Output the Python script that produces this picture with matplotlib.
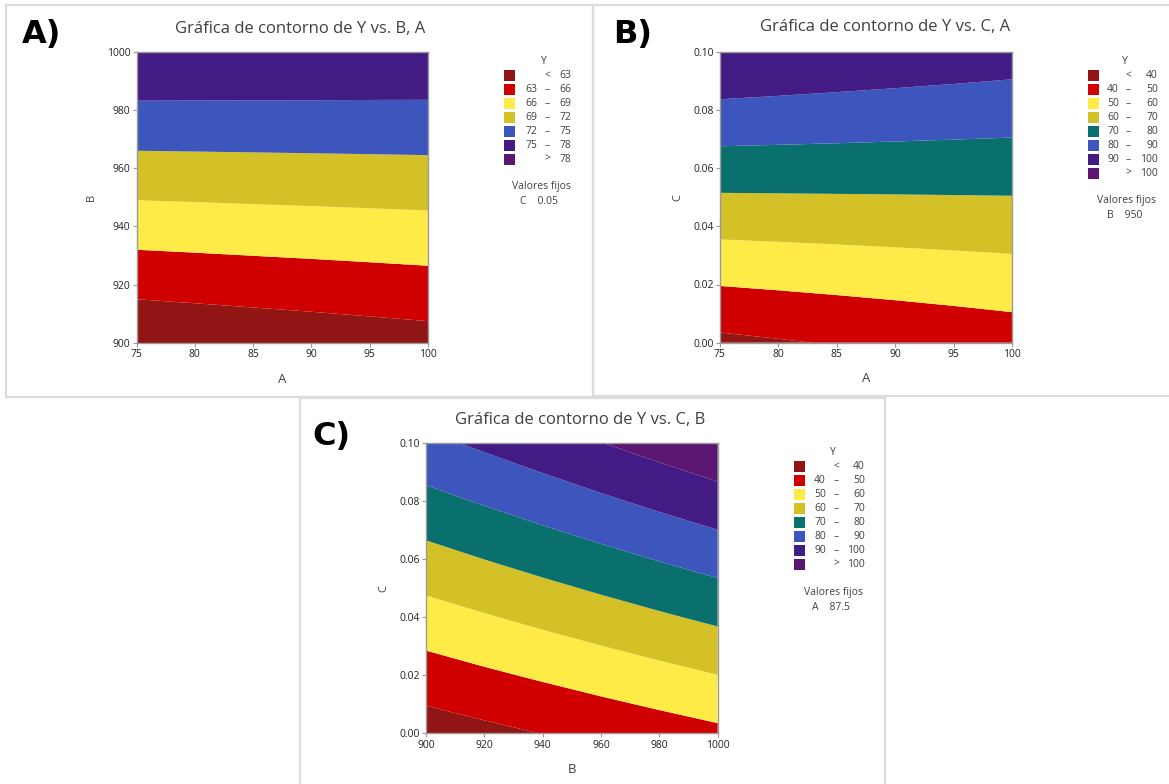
import matplotlib
matplotlib.use("Agg")
import matplotlib.pyplot as plt
from matplotlib.patches import Rectangle
import numpy as np

plt.rcParams['font.family'] = ['Open Sans', 'DejaVu Sans']

W, H = 1169, 784

# ---------------- data ----------------
# Panel A: Y vs B (rows) and A (cols); C fixed at 0.05
a_vals_A = [75, 80, 85, 90, 95, 100]
b_vals_A = [900, 920, 940, 960, 980, 1000]
y_grid_A = [
    [60.35, 60.64, 60.94, 61.23, 61.53, 61.82],
    [63.88, 64.10, 64.32, 64.53, 64.75, 64.97],
    [67.41, 67.55, 67.70, 67.84, 67.99, 68.13],
    [70.94, 71.01, 71.08, 71.15, 71.22, 71.29],
    [74.47, 74.47, 74.46, 74.46, 74.45, 74.45],
    [77.80, 77.76, 77.72, 77.69, 77.65, 77.61],
]
levels_A = [63, 66, 69, 72, 75, 78]

# Panel B: Y vs C (rows) and A (cols); B fixed at 950
a_vals_B = [75, 80, 85, 90, 95, 100]
c_vals_B = [0.00, 0.02, 0.04, 0.06, 0.08, 0.10]
y_grid_B = [
    [37.81, 39.20, 40.59, 41.97, 43.36, 44.75],
    [50.31, 51.20, 52.09, 52.97, 53.86, 54.75],
    [62.81, 63.20, 63.59, 63.97, 64.36, 64.75],
    [75.31, 75.20, 75.09, 74.97, 74.86, 74.75],
    [87.81, 87.20, 86.59, 85.97, 85.36, 84.75],
    [99.80, 98.79, 97.78, 96.77, 95.76, 94.75],
]
levels_B = [40, 50, 60, 70, 80, 90, 100]

# Panel C: Y vs C (rows) and B (cols); A fixed at 87.5
b_vals_C = [900, 920, 940, 960, 980, 1000]
c_vals_C = [0.00, 0.02, 0.04, 0.06, 0.08, 0.10]
y_grid_C = [
    [35.00, 37.58, 40.16, 42.74, 45.32, 47.90],
    [45.52, 48.40, 51.27, 54.15, 57.02, 59.90],
    [56.04, 59.21, 62.38, 65.56, 68.73, 71.90],
    [66.56, 70.03, 73.50, 76.96, 80.43, 83.90],
    [77.08, 80.84, 84.61, 88.37, 92.14, 95.90],
    [87.60, 91.66, 95.72, 99.78, 103.84, 107.90],
]
levels_C = [40, 50, 60, 70, 80, 90, 100]

colors_A = ['#921515', '#d10000', '#ffeb48', '#d4c027', '#3c56be', '#431b84', '#5a1670']
colors_BC = ['#921515', '#d10000', '#ffeb48', '#d4c027', '#0a706e', '#3c56be', '#431b84', '#5a1670']

xticks_A = [75, 80, 85, 90, 95, 100]
yticks_A = [900, 920, 940, 960, 980, 1000]
yticks_C = [0.00, 0.02, 0.04, 0.06, 0.08, 0.10]
xticks_C = [900, 920, 940, 960, 980, 1000]

titles = ['Gráfica de contorno de Y vs. B, A',
          'Gráfica de contorno de Y vs. C, A',
          'Gráfica de contorno de Y vs. C, B']
fixed = [('C', '0.05'), ('B', '950'), ('A', '87.5')]

TXT = '#404040'
GRID = '#9a9a9a'

fig = plt.figure(figsize=(W / 100, H / 100), dpi=100)
fig.patch.set_facecolor('white')


def fx(x):
    return x / W


def fy(y):
    return 1 - y / H


def add_ax(l, t, r, b):
    return fig.add_axes([fx(l), fy(b), (r - l) / W, (b - t) / H])


def frame(l, t, r, b):
    fig.patches.append(Rectangle((fx(l), fy(b)), (r - l) / W, (b - t) / H,
                                 transform=fig.transFigure, fill=False,
                                 edgecolor='#dcdcdc', linewidth=1.6))


def contour_panel(ax, xs, ys, z, levels, colors, xticks, yticks, xlabel, ylabel, yfmt):
    Z = np.array(z)
    bounds = [-1e6] + list(levels) + [1e6]
    ax.contourf(xs, ys, Z, levels=bounds, colors=colors, antialiased=True)
    ax.set_xlim(xs[0], xs[-1])
    ax.set_ylim(ys[0], ys[-1])
    ax.set_xticks(xticks)
    ax.set_yticks(yticks)
    ax.set_yticklabels([yfmt(v) for v in yticks])
    ax.tick_params(direction='out', length=3, width=0.8, colors=GRID,
                   labelcolor='#222222', labelsize=7.5, pad=1.5)
    for s in ax.spines.values():
        s.set_color(GRID)
        s.set_linewidth(1.0)
    ax.set_xlabel(xlabel, fontsize=9.5, color=TXT, labelpad=9)
    ax.set_ylabel(ylabel, fontsize=8, color=TXT, labelpad=7)


def legend(x_patch, y_title, row_h, x_left_num, x_dash, x_right, levels, colors, fixed_pair, y_fixed):
    fs = 7.5
    fig.text(fx(x_dash - 3), fy(y_title), 'Y', fontsize=fs, color=TXT, ha='center', va='center')
    n = len(colors)
    for i in range(n):
        y = y_title + row_h * (i + 1)
        fig.patches.append(Rectangle((fx(x_patch), fy(y + 5.5)), 11 / W, 11 / H,
                                     transform=fig.transFigure, facecolor=colors[i],
                                     edgecolor='none'))
        if i == 0:
            fig.text(fx(x_dash), fy(y), '<', fontsize=fs, color=TXT, ha='center', va='center')
            fig.text(fx(x_right), fy(y), f'{levels[0]}', fontsize=fs, color=TXT, ha='right', va='center')
        elif i == n - 1:
            fig.text(fx(x_dash), fy(y), '>', fontsize=fs, color=TXT, ha='center', va='center')
            fig.text(fx(x_right), fy(y), f'{levels[-1]}', fontsize=fs, color=TXT, ha='right', va='center')
        else:
            fig.text(fx(x_left_num), fy(y), f'{levels[i - 1]}', fontsize=fs, color=TXT, ha='right', va='center')
            fig.text(fx(x_dash), fy(y), '–', fontsize=fs, color=TXT, ha='center', va='center')
            fig.text(fx(x_right), fy(y), f'{levels[i]}', fontsize=fs, color=TXT, ha='right', va='center')
    xc = (x_patch + x_right) / 2 + 4
    fig.text(fx(xc), fy(y_fixed), 'Valores fijos', fontsize=fs, color=TXT, ha='center', va='center')
    fig.text(fx(xc - 2), fy(y_fixed + 15), f'{fixed_pair[0]}    {fixed_pair[1]}', fontsize=fs,
             color=TXT, ha='center', va='center')


# panel frames
frame(6, 5, 593, 397)
frame(593, 5, 1175, 396)
frame(300, 398, 885, 790)

# Panel A
axA = add_ax(136.5, 51.7, 428, 343)
contour_panel(axA, a_vals_A, b_vals_A, y_grid_A, levels_A, colors_A, xticks_A, yticks_A,
              'A', 'B', lambda v: f'{v:d}')
fig.text(fx(300), fy(29), titles[0], fontsize=12, color=TXT, ha='center', va='center')
fig.text(fx(42), fy(35), 'A)', fontsize=23, fontweight='bold', color='black', ha='center', va='center',
         family=['DejaVu Sans'])
legend(504, 62, 13.9, 537, 547, 571, levels_A, colors_A, fixed[0], 186)

# Panel B
axB = add_ax(720, 51.7, 1012, 342.7)
contour_panel(axB, a_vals_B, c_vals_B, y_grid_B, levels_B, colors_BC, xticks_A, yticks_C,
              'A', 'C', lambda v: f'{v:.2f}')
fig.text(fx(885), fy(27), titles[1], fontsize=12, color=TXT, ha='center', va='center')
fig.text(fx(633), fy(35), 'B)', fontsize=23, fontweight='bold', color='black', ha='center', va='center',
         family=['DejaVu Sans'])
legend(1087.5, 62, 13.9, 1119, 1128, 1158, levels_B, colors_BC, fixed[1], 201)

# Panel C
axC = add_ax(426, 443.3, 717.7, 733.3)
contour_panel(axC, b_vals_C, c_vals_C, y_grid_C, levels_C, colors_BC, xticks_C, yticks_C,
              'B', 'C', lambda v: f'{v:.2f}')
fig.text(fx(580), fy(420), titles[2], fontsize=12, color=TXT, ha='center', va='center')
fig.text(fx(331), fy(436), 'C)', fontsize=23, fontweight='bold', color='black', ha='center', va='center',
         family=['DejaVu Sans'])
legend(794, 453, 13.9, 826, 836, 865, levels_C, colors_BC, fixed[2], 592)

fig.savefig('out.png', dpi=100, facecolor='white')
